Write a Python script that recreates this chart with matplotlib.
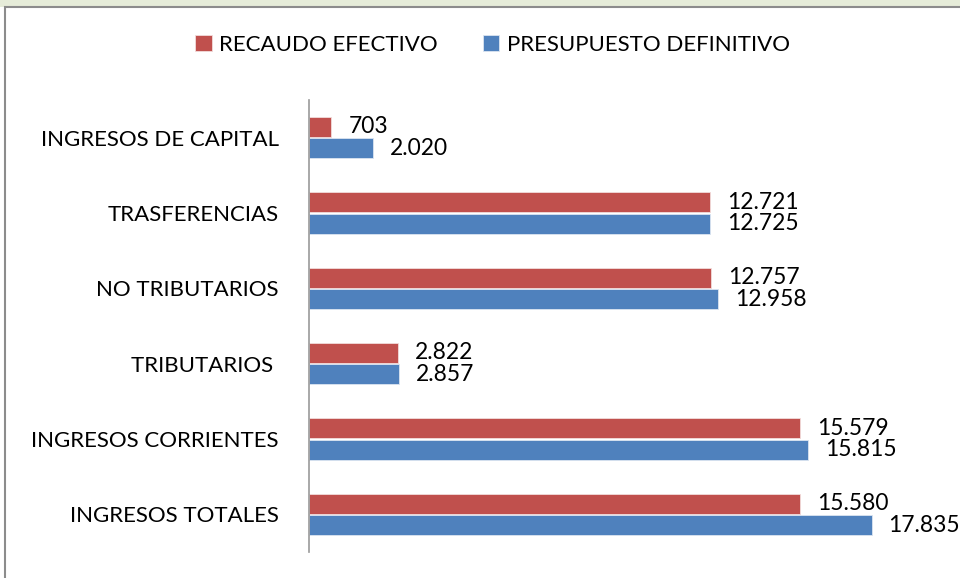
import matplotlib
matplotlib.use("Agg")
import matplotlib.pyplot as plt
from matplotlib.patches import Rectangle
import numpy as np

# data (bottom to top)
categories = ["INGRESOS TOTALES", "INGRESOS CORRIENTES", "TRIBUTARIOS ",
              "NO TRIBUTARIOS", "TRASFERENCIAS", "INGRESOS DE CAPITAL"]
recaudo = [15580, 15579, 2822, 12757, 12721, 703]
presupuesto = [17835, 15815, 2857, 12958, 12725, 2020]
series_names = ["RECAUDO EFECTIVO", "PRESUPUESTO DEFINITIVO"]

red = "#C0504D"
blue = "#4F81BD"

plt.rcParams["font.family"] = ["Lato", "DejaVu Sans"]

def fmt(v):
    return "{:,}".format(v).replace(",", ".")

fig = plt.figure(figsize=(9.6, 5.78), dpi=100)
ax = fig.add_axes([0.322, 0.045, 0.657, 0.782])

y = np.arange(len(categories))
h = 0.265
ax.barh(y + h / 2 + 0.01, recaudo, height=h, color=red, edgecolor="#f2dcdb",
        linewidth=0.6, label=series_names[0])
ax.barh(y - h / 2 - 0.01, presupuesto, height=h, color=blue, edgecolor="#dbe5f1",
        linewidth=0.6, label=series_names[1])

for i in range(len(categories)):
    ax.annotate(fmt(recaudo[i]), (recaudo[i], y[i] + h / 2 + 0.01), xytext=(17, 0),
                textcoords="offset pixels", va="center", ha="left", fontsize=16.4)
    ax.annotate(fmt(presupuesto[i]), (presupuesto[i], y[i] - h / 2 - 0.01), xytext=(17, 0),
                textcoords="offset pixels", va="center", ha="left", fontsize=16.4)

ax.set_xlim(0, 20000)
ax.set_ylim(-0.5, len(categories) - 0.5)
ax.set_yticks(y)
ax.set_yticklabels(categories, fontsize=16)
ax.tick_params(axis="y", length=0, pad=22)
ax.set_xticks([])
for s in ["top", "right", "bottom"]:
    ax.spines[s].set_visible(False)
ax.spines["left"].set_color("#999999")
ax.spines["left"].set_linewidth(1.2)

fig.legend(loc="center", bbox_to_anchor=(0.513, 0.922), ncol=2, frameon=False,
           fontsize=16, handlelength=0.75, handleheight=0.75, handletextpad=0.35,
           columnspacing=2.0)

# outer chart frame and the light band above it
fig.patches.append(Rectangle((0, 1 - 7 / 578), 1, 7 / 578, transform=fig.transFigure,
                             facecolor="#e6ecd9", edgecolor="none"))
fig.patches.append(Rectangle((5 / 960, -0.02), 1.0, 1 - 7 / 578 + 0.02,
                             transform=fig.transFigure, facecolor="none",
                             edgecolor="#8c8c8c", linewidth=1.5))

fig.savefig("out.png", dpi=100)
